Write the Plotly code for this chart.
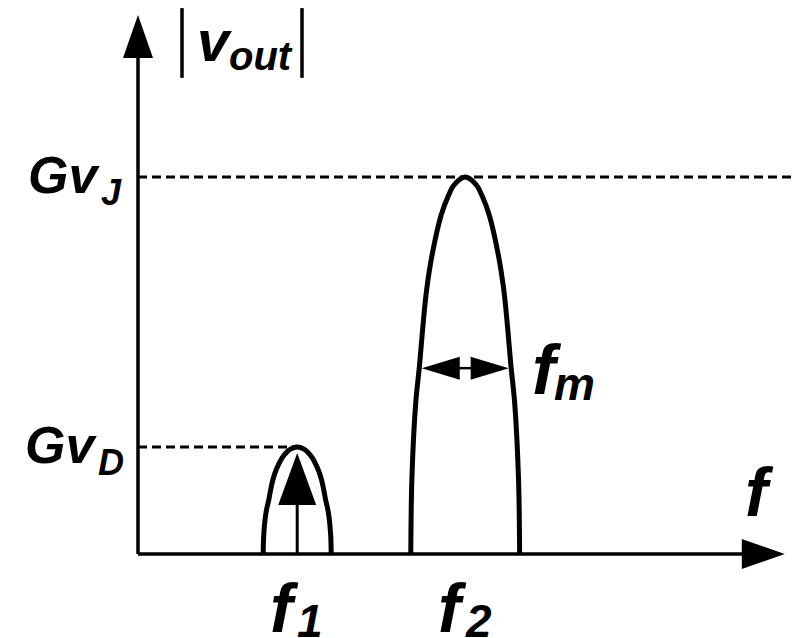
import numpy as np
import plotly.graph_objects as go

# ---- spectrum values (normalised units) ----
freq_names = [("f", "1"), ("f", "2")]
freqs = [3.98, 8.18]                 # carrier positions on the frequency axis
amp_names = [("Gv", "D"), ("Gv", "J")]
amps = [0.284, 1.0]                  # peak of each spectral lobe
lobe_halfwidths = [0.85, 1.36]       # half-width of each lobe at its base

# lobe outline: height fraction vs. half-width fraction
profile_h = [0.0, 0.2, 0.4, 0.5, 0.6, 0.7, 0.8, 0.9, 0.95, 0.98, 1.0]
profile_w = [1.0, 0.98, 0.91, 0.84, 0.78, 0.71, 0.60, 0.44, 0.31, 0.20, 0.0]

fm_level = 0.493                     # height (fraction of Gv_J) of the f_m marker
x_axis_end = 16.17
y_axis_end = 1.43
f_label_x = 15.48
vout_bars_x = [1.1, 4.1]
vout_bars_y = [1.263, 1.448]

# ---- canvas ----
W, H = 796, 638
X_RANGE = [-3.45, 16.45]
Y_RANGE = [-0.2228, 1.4695]
PX_X = (X_RANGE[1] - X_RANGE[0]) / W   # data units per pixel
PX_Y = (Y_RANGE[1] - Y_RANGE[0]) / H

FONT = "Liberation Sans, Arial, Helvetica, sans-serif"
DESCENT = 0.27                         # text box depth below the baseline, per unit size
BLACK = "#000000"

fig = go.Figure()


def poly(xs, ys):
    fig.add_trace(go.Scatter(x=xs, y=ys, mode="lines", fill="toself",
                             fillcolor=BLACK, line=dict(width=0),
                             hoverinfo="skip", showlegend=False))


def line(xs, ys, width, dash=None, shape="linear"):
    fig.add_trace(go.Scatter(x=xs, y=ys, mode="lines",
                             line=dict(color=BLACK, width=width, dash=dash, shape=shape),
                             hoverinfo="skip", showlegend=False))


def head(tx, ty, direction, length, half):
    """Filled arrowhead with its tip at (tx, ty); sizes in pixels."""
    if direction == "up":
        poly([tx, tx - half * PX_X, tx + half * PX_X, tx],
             [ty, ty - length * PX_Y, ty - length * PX_Y, ty])
    elif direction == "right":
        poly([tx, tx - length * PX_X, tx - length * PX_X, tx],
             [ty, ty + half * PX_Y, ty - half * PX_Y, ty])
    elif direction == "left":
        poly([tx, tx + length * PX_X, tx + length * PX_X, tx],
             [ty, ty + half * PX_Y, ty - half * PX_Y, ty])


# dotted guide lines to the vertical axis
line([0, X_RANGE[1]], [amps[1], amps[1]], 3, dash="9px,5px")
line([0, freqs[0]], [amps[0], amps[0]], 3, dash="9px,5px")

# axes
line([0, 0], [0, y_axis_end - 30 * PX_Y], 3.5)
line([0, x_axis_end - 30 * PX_X], [0, 0], 3.5)
head(0, y_axis_end, "up", 43, 15)
head(x_axis_end, 0, "right", 43, 15)

# spectral lobes
ph = np.array(profile_h)
pw = np.array(profile_w)
for c, a, hw in zip(freqs, amps, lobe_halfwidths):
    xs = np.concatenate([c - hw * pw, (c + hw * pw)[::-1][1:]])
    ys = np.concatenate([a * ph, (a * ph)[::-1][1:]])
    line(xs, ys, 5, shape="spline")

# impulse arrow at f1
tip_y = amps[0] - 6 * PX_Y
line([freqs[0], freqs[0]], [0, tip_y - 40 * PX_Y], 3)
head(freqs[0], tip_y, "up", 52, 19)

# modulation-bandwidth marker inside the f2 lobe
fm_y = amps[1] * fm_level
half_at = lobe_halfwidths[1] * np.interp(fm_level, ph, pw) - 2.5 * PX_X
xl, xr = freqs[1] - half_at, freqs[1] + half_at
line([xl + 30 * PX_X, xr - 30 * PX_X], [fm_y, fm_y], 2.5)
head(xl, fm_y, "left", 38, 11.5)
head(xr, fm_y, "right", 38, 11.5)

# |v_out| bars
for bx in vout_bars_x:
    line([bx, bx], vout_bars_y, 3.5)

annotations = []


def piece(text, x, y, size, xanchor, dx, baseline):
    """Bold-italic text whose baseline sits `baseline` px below (x, y)."""
    annotations.append(dict(
        text=text, x=x, y=y, xref="x", yref="y", showarrow=False,
        xanchor=xanchor, yanchor="bottom",
        xshift=dx, yshift=-baseline - DESCENT * size - 2,
        font=dict(family=FONT, size=size, color=BLACK, weight="bold", style="italic")))


# amplitude labels on the vertical axis
for (main, sub), a, dx in zip(amp_names, amps, [-39, -36]):
    piece(main, 0, a, 52, "right", dx, 13)
    piece(sub, 0, a, 36, "left", dx - 3, 26)

# frequency labels under the horizontal axis
for (main, sub), f in zip(freq_names, freqs):
    piece(main, f, 0, 68, "right", 4, 74)
    piece(sub, f, 0, 46, "left", -2, 81)

# axis title "f"
piece("f", f_label_x, 0, 68, "center", 2, -42)

# f_m beside the bandwidth marker
piece("f", xr, fm_y, 70, "left", 21, 22)
piece("m", xr, fm_y, 46, "left", 43, 29)

# |v_out| title between the bars
vx = sum(vout_bars_x) / 2
vy = sum(vout_bars_y) / 2
piece("v", vx, vy, 58, "left", -47, 14)
piece("out", vx, vy, 40, "left", -15, 24)

fig.update_layout(
    width=W, height=H,
    margin=dict(l=0, r=0, t=0, b=0),
    paper_bgcolor="white", plot_bgcolor="white",
    xaxis=dict(range=X_RANGE, visible=False, fixedrange=True),
    yaxis=dict(range=Y_RANGE, visible=False, fixedrange=True),
    annotations=annotations,
    showlegend=False,
)

fig.write_html("out.html")
